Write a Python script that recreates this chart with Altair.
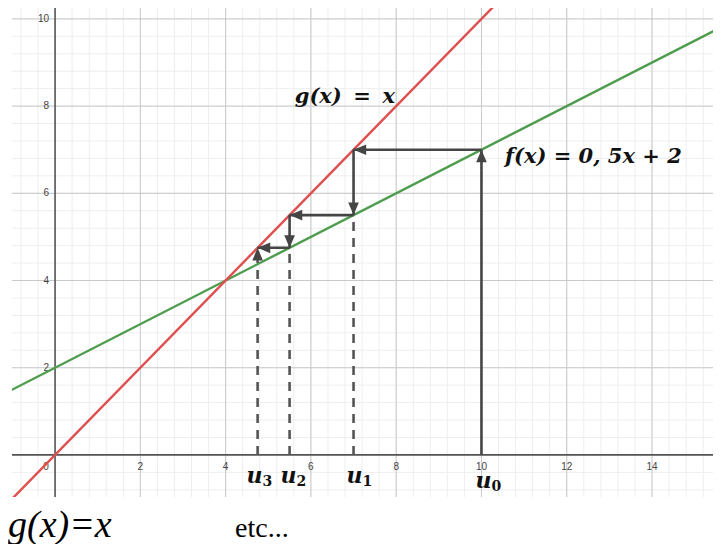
import altair as alt
import pandas as pd
import numpy as np

# ---------------- data ----------------
# function lines (end points, clipped to the view)
line_x = [-1.2, 15.6]
f_y = [1.4, 9.8]        # f(x) = 0,5x + 2
g_y = [-1.2, 15.6]      # g(x) = x

# sequence values u0..u3
u_values = [10, 7, 5.5, 4.75]
u_subs = ["0", "1", "2", "3"]

# cobweb arrows (solid)
arrow_x = [10, 10, 7, 7, 5.5, 5.5]
arrow_y = [0, 7, 7, 5.5, 5.5, 4.75]
arrow_x2 = [10, 7, 7, 5.5, 5.5, 4.75]
arrow_y2 = [7, 7, 5.5, 5.5, 4.75, 4.75]
arrow_angle = [0, 270, 180, 270, 180, 270]

# dashed projections
dash_x = [7, 5.5, 4.75]
dash_top = [5.5, 4.75, 4.75]

# extra arrow head on the last dashed line
extra_head_x = [4.75]
extra_head_y = [4.75]
extra_head_angle = [0]

# axes / grid
x_ticks = [2, 4, 6, 8, 10, 12, 14]
y_ticks = [2, 4, 6, 8, 10]
x_major_grid = [2, 4, 6, 8, 10, 12, 14]
y_major_grid = [2, 4, 6, 8, 10]
x_minor_grid = [round(v, 2) for v in np.arange(-0.8, 15.3, 0.4)]
y_minor_grid = [round(v, 2) for v in np.arange(-0.8, 10.3, 0.4)]

X_DOM = [-1.01, 15.43]
Y_DOM = [-0.965, 10.25]

# label nudges (pixels) for u0..u3
U_NUDGE_X = [2, 1, -1, -3]
U_NUDGE_Y = [33, 28, 28, 28]

NB = "\u00a0"
TH = "\u2009"

# ---------------- chart ----------------
xs = alt.Scale(domain=X_DOM, nice=False, zero=False)
ys = alt.Scale(domain=Y_DOM, nice=False, zero=False)

def X(field="x"):
    return alt.X(f"{field}:Q", scale=xs, axis=None)

def Y(field="y"):
    return alt.Y(f"{field}:Q", scale=ys, axis=None)

minor_v = alt.Chart(pd.DataFrame({"x": x_minor_grid})).mark_rule(
    color="#eeeeee", strokeWidth=1).encode(x=X())
minor_h = alt.Chart(pd.DataFrame({"y": y_minor_grid})).mark_rule(
    color="#eeeeee", strokeWidth=1).encode(y=Y())
major_v = alt.Chart(pd.DataFrame({"x": x_major_grid})).mark_rule(
    color="#c9c9c9", strokeWidth=1).encode(x=X())
major_h = alt.Chart(pd.DataFrame({"y": y_major_grid})).mark_rule(
    color="#c9c9c9", strokeWidth=1).encode(y=Y())
axis_x = alt.Chart(pd.DataFrame({"y": [0]})).mark_rule(
    color="#555555", strokeWidth=1.6).encode(y=Y())
axis_y = alt.Chart(pd.DataFrame({"x": [0]})).mark_rule(
    color="#555555", strokeWidth=1.6).encode(x=X())

xlab = alt.Chart(pd.DataFrame({"x": x_ticks, "y": [0] * len(x_ticks),
                               "t": [str(v) for v in x_ticks]})).mark_text(
    font="Liberation Sans", fontSize=10, color="#444444", dy=12,
    baseline="middle").encode(x=X(), y=Y(), text="t:N")
ylab = alt.Chart(pd.DataFrame({"y": y_ticks, "x": [0] * len(y_ticks),
                               "t": [str(v) for v in y_ticks]})).mark_text(
    font="Liberation Sans", fontSize=10, color="#444444", dx=-6, align="right",
    baseline="middle").encode(x=X(), y=Y(), text="t:N")
olab = alt.Chart(pd.DataFrame({"x": [0], "y": [0], "t": ["0"]})).mark_text(
    font="Liberation Sans", fontSize=10, color="#444444", dx=-9, dy=12,
    baseline="middle").encode(x=X(), y=Y(), text="t:N")

fline = alt.Chart(pd.DataFrame({"x": line_x, "y": f_y})).mark_line(
    color="#4e9c4e", strokeWidth=2.4, clip=True).encode(x=X(), y=Y())
gline = alt.Chart(pd.DataFrame({"x": line_x, "y": g_y})).mark_line(
    color="#de4f4f", strokeWidth=2.4, clip=True).encode(x=X(), y=Y())

dashes = alt.Chart(pd.DataFrame({"x": dash_x, "y": [0] * len(dash_x),
                                 "y2": dash_top})).mark_rule(
    color="#555555", strokeWidth=2.6, strokeDash=[9, 7]).encode(
    x=X(), y=Y(), y2="y2:Q")

arrows_df = pd.DataFrame({"x": arrow_x, "y": arrow_y, "x2": arrow_x2,
                          "y2": arrow_y2, "a": arrow_angle})
shafts = alt.Chart(arrows_df).mark_rule(
    color="#454545", strokeWidth=2.6).encode(
    x=X(), y=Y(), x2="x2:Q", y2="y2:Q")

heads_df = pd.DataFrame({"x": arrow_x2 + extra_head_x,
                         "y": arrow_y2 + extra_head_y,
                         "a": arrow_angle + extra_head_angle})
ARROW = "M0,0L-0.42,1L0.42,1Z"
heads = alt.Chart(heads_df).mark_point(
    shape=ARROW, filled=True, color="#454545", opacity=1, size=640).encode(
    x=X(), y=Y(), angle=alt.Angle("a:Q", scale=None))

u_layers = []
for val, sub, nx, ny in zip(u_values, u_subs, U_NUDGE_X, U_NUDGE_Y):
    d = pd.DataFrame({"x": [val], "y": [0], "s": [sub]})
    u_layers.append(alt.Chart(d).mark_text(
        text="u", font="DejaVu Serif", fontStyle="italic", fontWeight="bold",
        fontSize=22, color="#111111", dy=ny, dx=nx, align="center",
        baseline="alphabetic").encode(x=X(), y=Y()))
    u_layers.append(alt.Chart(d).mark_text(
        font="DejaVu Serif", fontWeight="bold", fontSize=14, color="#111111",
        dx=nx + 8, dy=ny + 3, align="left", baseline="alphabetic").encode(
        x=X(), y=Y(), text="s:N"))

glabel = alt.Chart(pd.DataFrame({"x": [5.62], "y": [8.22],
                                 "t": [f"g(x){NB}{TH}={NB}{TH}x"]})).mark_text(
    font="DejaVu Serif", fontStyle="italic", fontWeight="bold", fontSize=21,
    color="#111111", align="left", baseline="middle").encode(
    x=X(), y=Y(), text="t:N")
flabel = alt.Chart(pd.DataFrame({"x": [10.55], "y": [6.84],
                                 "t": [f"f(x){NB}={NB}0, 5x{NB}+{NB}2"]})).mark_text(
    font="DejaVu Serif", fontStyle="italic", fontWeight="bold", fontSize=21,
    color="#111111", align="left", baseline="middle").encode(
    x=X(), y=Y(), text="t:N")

bottom1 = alt.Chart(pd.DataFrame({"t": ["g(x)=x"]})).mark_text(
    font="Liberation Serif", fontStyle="italic", fontSize=38, color="#000000",
    align="left", baseline="alphabetic").encode(
    x=alt.value(-4), y=alt.value(529), text="t:N")
bottom2 = alt.Chart(pd.DataFrame({"t": ["etc..."]})).mark_text(
    font="Liberation Serif", fontSize=28, color="#000000",
    align="left", baseline="alphabetic").encode(
    x=alt.value(223), y=alt.value(529), text="t:N")

chart = alt.layer(
    minor_v, minor_h, major_v, major_h, axis_x, axis_y,
    xlab, ylab, olab,
    fline, gline, dashes, shafts, heads,
    *u_layers, glabel, flabel, bottom1, bottom2,
).properties(
    width=701, height=489,
    padding={"left": 4, "top": 0, "right": 0, "bottom": 47},
    autosize=alt.AutoSizeParams(type="none"),
).configure_view(stroke=None)

chart.save("out.html", embed_options={"renderer": "svg", "actions": False})
